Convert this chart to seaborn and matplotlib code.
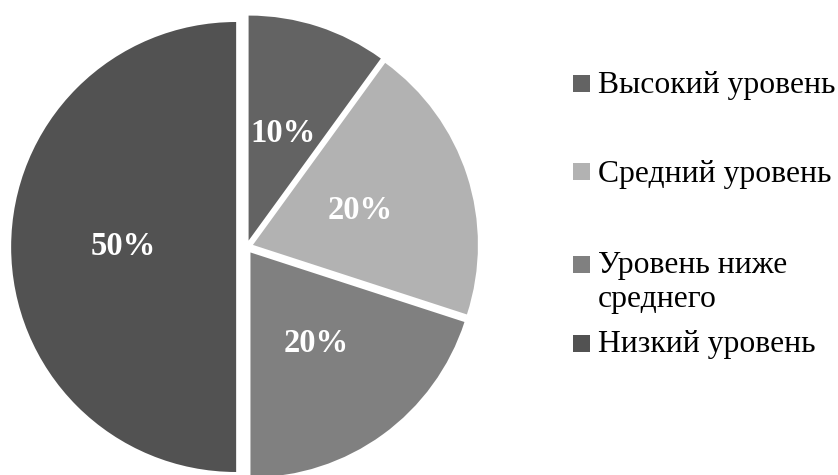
import matplotlib
matplotlib.use("Agg")
import matplotlib.pyplot as plt
import seaborn as sns
from matplotlib.patches import Rectangle

sns.set_theme(style="white")
plt.rcParams["font.family"] = ["Liberation Serif", "DejaVu Serif"]

categories = ["Высокий уровень", "Средний уровень", "Уровень ниже\nсреднего", "Низкий уровень"]
values = [10, 20, 20, 50]
colors = ["#636363", "#b2b2b2", "#808080", "#525252"]
explode = [0.03, 0.03, 0.03, 0.046]

W, H = 838, 475
fig = plt.figure(figsize=(W / 100, H / 100), dpi=100)
ax = fig.add_axes([0, 0, 1, 1])

R = 225.0
cx, cy = 246.5, 247.0
wedges, texts, autotexts = ax.pie(
    values, colors=colors, explode=explode, startangle=90, counterclock=False,
    radius=1.0, autopct=lambda p: f"{p:.0f}%", pctdistance=0.5,
    wedgeprops=dict(linewidth=0),
    textprops=dict(color="white", fontsize=23.5, fontweight="bold"),
)
ax.set_aspect("auto")
ax.set_xlim(-cx / R, (W - cx) / R)
ax.set_ylim(-(H - cy) / R, cy / R)
ax.axis("off")

# Legend (manual, to match uneven spacing)
sq = 17
legend_rows = [(84, 93), (171, 182), (264, 273), (343, 352)]
for (sqc, base), lab, col in zip(legend_rows, categories, colors):
    fig.patches.append(Rectangle(((573) / W, 1 - (sqc + sq / 2) / H), sq / W, sq / H,
                                 transform=fig.transFigure, facecolor=col, edgecolor="none"))
    lines = lab.split("\n")
    for i, ln in enumerate(lines):
        fig.text(598 / W, 1 - (base + i * 34) / H, ln, fontsize=22.8, color="black",
                 ha="left", va="baseline")

fig.savefig("out.png", dpi=100, facecolor="white")
